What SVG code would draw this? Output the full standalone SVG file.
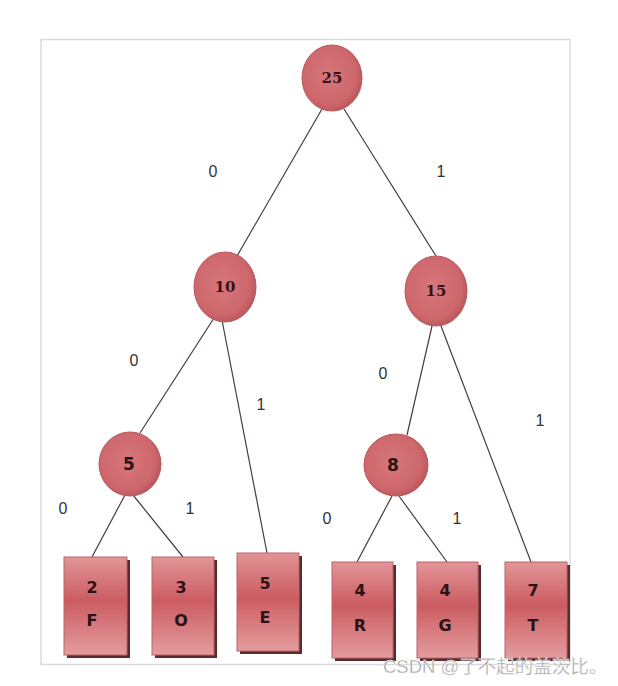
<svg xmlns="http://www.w3.org/2000/svg" width="618" height="686" viewBox="0 0 618 686">
<defs>
<radialGradient id="cg" cx="45%" cy="45%" r="60%">
<stop offset="0" stop-color="#d6777b"/>
<stop offset="0.75" stop-color="#cd676c"/>
<stop offset="1" stop-color="#b4535a"/>
</radialGradient>
<linearGradient id="rg" x1="0" y1="0" x2="0" y2="1">
<stop offset="0" stop-color="#e29598"/>
<stop offset="0.45" stop-color="#cb5c61"/>
<stop offset="1" stop-color="#e49c9e"/>
</linearGradient>
<style>
.c{fill:url(#cg);stroke:#b9585e;stroke-width:1}
.r{fill:url(#rg);stroke:#b86468;stroke-width:1}
.sh{fill:#5b2a2c}
.ct{font-family:"DejaVu Serif",serif;font-weight:bold;font-size:15px;fill:#3a1214;text-anchor:middle}
.ct2{font-family:"DejaVu Sans",sans-serif;font-weight:bold;font-size:17px;fill:#2a1416;text-anchor:middle}
.rt{font-family:"DejaVu Sans",sans-serif;font-weight:bold;font-size:16px;fill:#2a1416;text-anchor:middle}
.lb{font-family:"Liberation Sans",Arial,sans-serif;font-size:16px;fill:#333;text-anchor:middle}
.e{stroke:#4a3a3a;stroke-width:1.2;fill:none}
</style>
</defs>
<rect width="618" height="686" fill="#ffffff"/>
<rect x="41" y="39.5" width="529" height="625" fill="#ffffff" stroke="#d8dadd" stroke-width="1.5"/>
<g id="connectors">
<line class="e" x1="322" y1="109" x2="237" y2="256"/>
<line class="e" x1="344" y1="109" x2="436" y2="256"/>
<line class="e" x1="214" y1="318" x2="140" y2="433"/>
<line class="e" x1="222" y1="320" x2="267" y2="553"/>
<line class="e" x1="432" y1="326" x2="407" y2="435"/>
<line class="e" x1="441" y1="326" x2="531" y2="562"/>
<line class="e" x1="125" y1="495" x2="92" y2="557"/>
<line class="e" x1="133" y1="495" x2="183" y2="557"/>
<line class="e" x1="392" y1="496" x2="357" y2="562"/>
<line class="e" x1="399" y1="496" x2="447" y2="562"/>
</g>
<g id="labels">
<text class="lb" x="213" y="177">0</text>
<text class="lb" x="441" y="177">1</text>
<text class="lb" x="134" y="366">0</text>
<text class="lb" x="261" y="410">1</text>
<text class="lb" x="383" y="379">0</text>
<text class="lb" x="540" y="426">1</text>
<text class="lb" x="63" y="514">0</text>
<text class="lb" x="190" y="514">1</text>
<text class="lb" x="327" y="524">0</text>
<text class="lb" x="457" y="524">1</text>
</g>
<g id="n25"><ellipse class="c" cx="332" cy="78" rx="30" ry="33"/><text class="ct" x="332" y="83">25</text></g>
<g id="n10"><ellipse class="c" cx="225" cy="287" rx="31" ry="35"/><text class="ct" x="225" y="292">10</text></g>
<g id="n15"><ellipse class="c" cx="436" cy="291" rx="31" ry="35"/><text class="ct" x="436" y="296">15</text></g>
<g id="n5"><ellipse class="c" cx="130" cy="464" rx="31" ry="32"/><text class="ct2" x="129" y="470">5</text></g>
<g id="n8"><ellipse class="c" cx="396" cy="465" rx="32" ry="31"/><text class="ct2" x="393" y="471">8</text></g>
<g id="leafF"><rect class="sh" x="67" y="560" width="63" height="98"/><rect class="r" x="64" y="557" width="63" height="98"/><text class="rt" x="92" y="593">2</text><text class="rt" x="92" y="626">F</text></g>
<g id="leafO"><rect class="sh" x="155" y="560" width="62" height="98"/><rect class="r" x="152" y="557" width="62" height="98"/><text class="rt" x="181" y="593">3</text><text class="rt" x="181" y="626">O</text></g>
<g id="leafE"><rect class="sh" x="240" y="556" width="62" height="98"/><rect class="r" x="237" y="553" width="62" height="98"/><text class="rt" x="265" y="589">5</text><text class="rt" x="265" y="623">E</text></g>
<g id="leafR"><rect class="sh" x="335" y="565" width="61" height="96"/><rect class="r" x="332" y="562" width="61" height="96"/><text class="rt" x="360" y="596">4</text><text class="rt" x="360" y="631">R</text></g>
<g id="leafG"><rect class="sh" x="420" y="565" width="61" height="96"/><rect class="r" x="417" y="562" width="61" height="96"/><text class="rt" x="445" y="596">4</text><text class="rt" x="445" y="631">G</text></g>
<g id="leafT"><rect class="sh" x="508" y="565" width="62" height="96"/><rect class="r" x="505" y="562" width="62" height="96"/><text class="rt" x="533" y="596">7</text><text class="rt" x="533" y="631">T</text></g>
<text x="383" y="673" font-family="'Liberation Sans','Noto Sans CJK SC',sans-serif" font-size="18.5" fill="#a6a6a6" stroke="#ffffff" stroke-width="0.3">CSDN @了不起的盖茨比。</text>
</svg>
